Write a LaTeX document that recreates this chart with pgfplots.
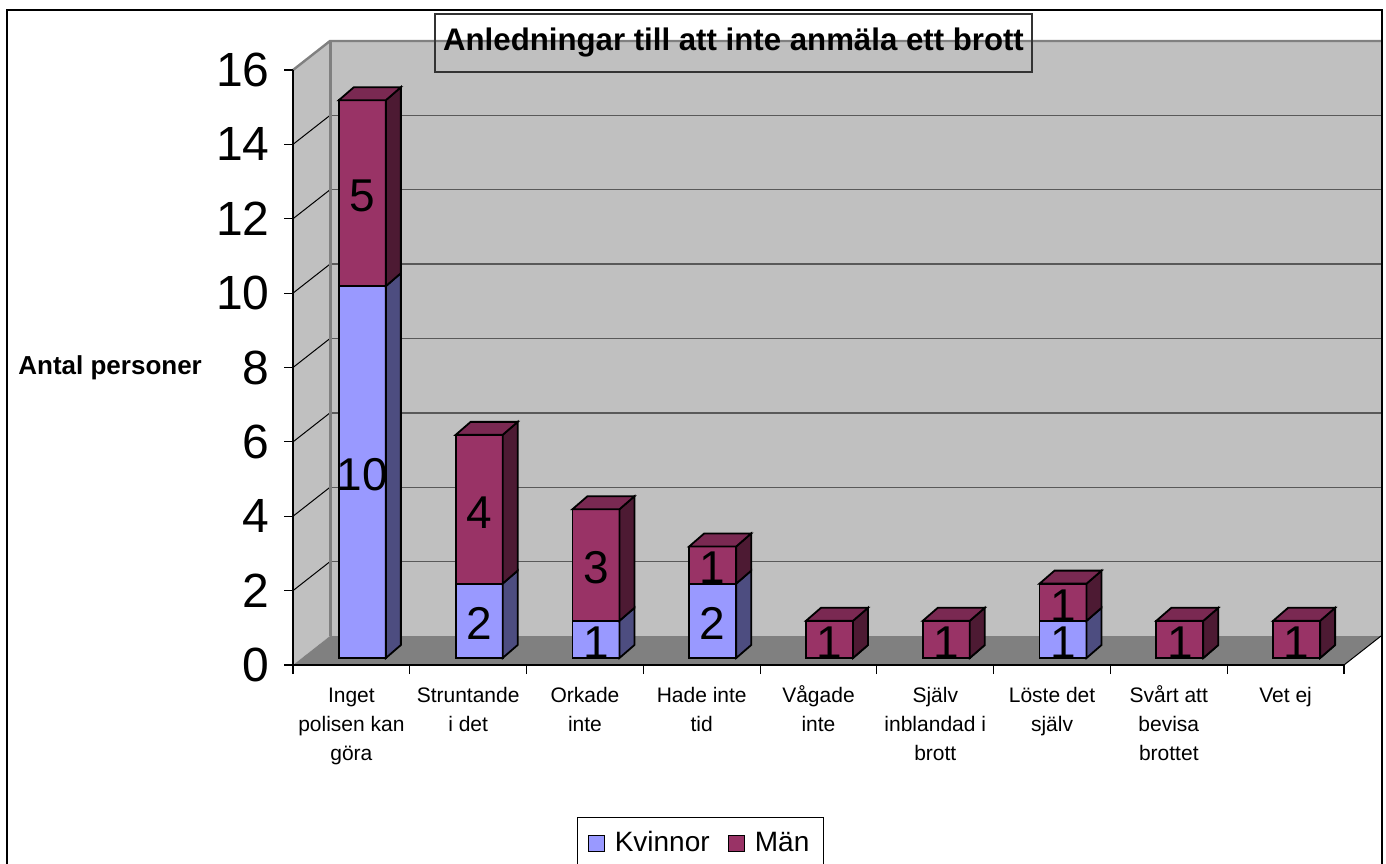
\documentclass[border=0pt]{standalone}
\usepackage{pgfplots}
\pgfplotsset{compat=1.18}
\usepackage{pgfplotstable}
\usepackage{fontspec}
\setmainfont{Liberation Sans}
\definecolor{kfront}{HTML}{9999FF}
\definecolor{kside}{HTML}{4D4D80}
\definecolor{mfront}{HTML}{993366}
\definecolor{mside}{HTML}{4D1A33}
\definecolor{mtop}{HTML}{7A2952}
\definecolor{wall}{HTML}{C0C0C0}
\definecolor{floorc}{HTML}{808080}
\pgfplotsset{/pgf/number format/assume math mode=true}

\pgfplotstableread{
x    k   m
0.5  10  5
1.5  2   4
2.5  1   3
3.5  2   1
4.5  0   1
5.5  0   1
6.5  1   1
7.5  0   1
8.5  0   1
}\data

\pgfdeclareplotmark{sideK}{%
  \pgfpathmoveto{\pgfqpoint{11.75pt}{0pt}}%
  \pgfpathlineto{\pgfqpoint{19.25pt}{6.5pt}}%
  \pgfpathlineto{\pgfpoint{19.25pt}{6.5pt-\hval*18.59375pt}}%
  \pgfpathlineto{\pgfpoint{11.75pt}{-\hval*18.59375pt}}%
  \pgfpathclose
  \pgfsetfillcolor{kside}%
  \pgfusepath{fill,stroke}%
}
\pgfdeclareplotmark{boxM}{%
  \pgfpathmoveto{\pgfqpoint{11.75pt}{0pt}}%
  \pgfpathlineto{\pgfqpoint{19.25pt}{6.5pt}}%
  \pgfpathlineto{\pgfpoint{19.25pt}{6.5pt-\hval*18.59375pt}}%
  \pgfpathlineto{\pgfpoint{11.75pt}{-\hval*18.59375pt}}%
  \pgfpathclose
  \pgfsetfillcolor{mside}%
  \pgfusepath{fill,stroke}%
  \pgfpathmoveto{\pgfqpoint{-11.75pt}{0pt}}%
  \pgfpathlineto{\pgfqpoint{11.75pt}{0pt}}%
  \pgfpathlineto{\pgfqpoint{19.25pt}{6.5pt}}%
  \pgfpathlineto{\pgfqpoint{-4.25pt}{6.5pt}}%
  \pgfpathclose
  \pgfsetfillcolor{mtop}%
  \pgfusepath{fill,stroke}%
}
\newcommand\B[2]{([shift={(18.5pt,14.5pt)}]axis cs:#1,#2)}

\begin{document}
\begin{tikzpicture}
\path[use as bounding box] (0,0) rectangle (693pt,431.5pt);
\begin{axis}[
  at={(146.5pt,99pt)}, anchor=south west,
  scale only axis, width=525.5pt, height=297.5pt,
  xmin=0, xmax=9, ymin=0, ymax=16,
  clip=false, axis on top,
  axis lines*=left,
  axis line style={black, line width=0.6pt},
  tick style={black, line width=0.6pt},
  tick align=outside, major tick length=4.5pt,
  xtick={0,...,9}, xticklabels={},
  extra x ticks={0.5,1.5,...,8.5},
  extra x tick labels={\strut Inget\\polisen kan\\göra, \strut Struntande\\i det, \strut Orkade\\inte, \strut Hade inte\\tid, \strut Vågade\\inte, \strut Själv\\inblandad i\\brott, \strut Löste det\\själv, \strut Svårt att\\bevisa\\brottet, \strut Vet ej},
  extra x tick style={major tick length=0pt, tick style={draw=none}},
  xticklabel style={font=\fontsize{10.5}{14.5}\selectfont, align=center, anchor=north, yshift=-5pt},
  ytick={0,2,...,16},
  yticklabel style={font=\fontsize{24}{24}\selectfont, anchor=east, inner sep=0pt, xshift=-7pt},
  legend columns=2,
  legend image code/.code={\draw[#1, line width=0.6pt] (0pt,-4pt) rectangle (8pt,4pt); \path (11pt,0pt);},
  legend style={at={(axis description cs:0.2702,-0.2555)}, anchor=north west, draw=black, line width=0.6pt,
    font=\fontsize{14}{16}\selectfont, inner xsep=5pt, inner ysep=5pt,
    /tikz/every even column/.append style={column sep=7pt}},
]
\fill[wall] (axis cs:0,0) -- (axis cs:0,16) -- \B{0}{16} -- \B{0}{0} -- cycle;
\fill[wall] \B{0}{0} rectangle \B{9}{16};
\fill[floorc] (axis cs:0,0) -- (axis cs:9,0) -- \B{9}{0} -- \B{0}{0} -- cycle;
\pgfplotsinvokeforeach{2,4,...,14}{
  \draw[black, line width=0.5pt] (axis cs:0,#1) -- \B{0}{#1};
  \draw[black!65, line width=0.7pt] \B{0}{#1} -- \B{9}{#1};
}
\draw[floorc, line width=1.2pt] (axis cs:0,16) -- \B{0}{16} -- \B{9}{16};
\draw[floorc, line width=1.5pt] \B{0}{16} -- \B{0}{0};
\draw[black, line width=0.5pt] (axis cs:9,0) -- \B{9}{0};
\addlegendimage{fill=kfront, draw=black}
\addlegendentry{Kvinnor}
\addlegendimage{fill=mfront, draw=black}
\addlegendentry{Män}
\end{axis}

\begin{axis}[
  at={(152pt,102.5pt)}, anchor=south west,
  scale only axis, width=525.5pt, height=297.5pt,
  xmin=0, xmax=9, ymin=0, ymax=16, clip=false, hide axis,
  ybar stacked, bar width=23.5pt,
]
\addplot[fill=kfront, draw=black, line width=0.9pt] table[x=x, y=k] {\data};
\addplot[fill=mfront, draw=black, line width=0.9pt] table[x=x, y=m] {\data};
\end{axis}

\begin{axis}[
  at={(152pt,102.5pt)}, anchor=south west,
  scale only axis, width=525.5pt, height=297.5pt,
  xmin=0, xmax=9, ymin=0, ymax=16, clip=false, hide axis,
]
\addplot[only marks, scatter, scatter/@pre marker code/.code={}, scatter/@post marker code/.code={},
  mark=sideK, mark options={draw=black, line width=0.9pt},
  visualization depends on={\thisrow{k} \as \hval}] table[x=x, y=k] {\data};
\addplot[only marks, scatter, scatter/@pre marker code/.code={}, scatter/@post marker code/.code={},
  mark=boxM, mark options={draw=black, line width=0.9pt},
  visualization depends on={\thisrow{m} \as \hval}] table[x=x, y expr=\thisrow{k}+\thisrow{m}] {\data};
\addplot[draw=none, nodes near coords, point meta=explicit,
  every node near coord/.append style={anchor=center, inner sep=0pt, yshift=-1.5pt, font=\fontsize{23}{23}\selectfont},
  restrict y to domain=0.1:100] table[x=x, y expr=\thisrow{k}/2, meta=k] {\data};
\addplot[draw=none, nodes near coords, point meta=explicit,
  every node near coord/.append style={anchor=center, inner sep=0pt, yshift=-1.5pt, font=\fontsize{23}{23}\selectfont}]
  table[x=x, y expr=\thisrow{k}+\thisrow{m}/2, meta=m] {\data};
\end{axis}

\node[draw=black!80, line width=0.6pt, minimum width=298.5pt, minimum height=29pt, inner sep=0pt,
  font=\bfseries\fontsize{15.6}{18}\selectfont] at (366.75pt,410pt) {Anledningar till att inte anmäla ett brott};
\node[anchor=west, inner sep=0pt, font=\bfseries\fontsize{13}{15}\selectfont] at (9pt,247.5pt) {Antal personer};
\draw[black, line width=0.8pt] (3.5pt,-2pt) -- (3.5pt,426.5pt) -- (691pt,426.5pt) -- (691pt,-2pt);
\end{tikzpicture}
\end{document}
